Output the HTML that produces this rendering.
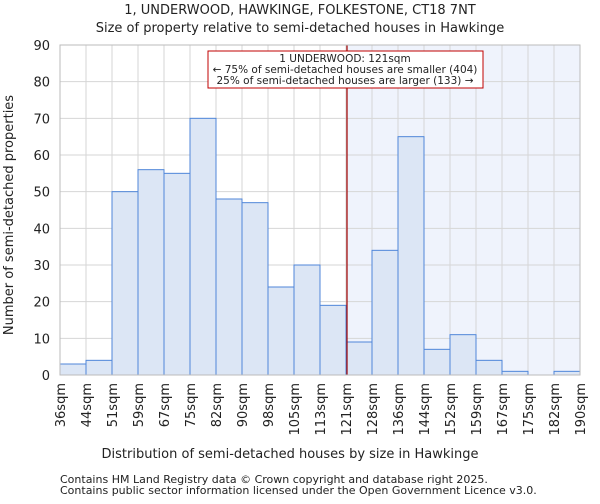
<!DOCTYPE html>
<html><head><meta charset="utf-8"><style>
body{margin:0;background:#fff;font-family:"DejaVu Sans","Liberation Sans",sans-serif;}
svg text{font-family:"DejaVu Sans","Liberation Sans",sans-serif;fill:#222;}
</style></head><body>
<svg id="chart" width="600" height="500">
<text x="300" y="14" font-size="13" text-anchor="middle">1, UNDERWOOD, HAWKINGE, FOLKESTONE, CT18 7NT</text>
<text x="300" y="32" font-size="13" text-anchor="middle">Size of property relative to semi-detached houses in Hawkinge</text>
<g id="grid"></g><g id="bars"></g><g id="axes"></g>
<text x="290" y="458" font-size="13" text-anchor="middle">Distribution of semi-detached houses by size in Hawkinge</text>
<text transform="translate(13,215) rotate(-90)" font-size="13" text-anchor="middle">Number of semi-detached properties</text>
<text x="60" y="483" font-size="11" fill="#444">Contains HM Land Registry data © Crown copyright and database right 2025.</text>
<text x="60" y="494" font-size="11" fill="#444">Contains public sector information licensed under the Open Government Licence v3.0.</text>
</svg>
<script>
const categories=["36sqm","44sqm","51sqm","59sqm","67sqm","75sqm","82sqm","90sqm","98sqm","105sqm","113sqm","121sqm","128sqm","136sqm","144sqm","152sqm","159sqm","167sqm","175sqm","182sqm","190sqm"];
const counts=[3,4,50,56,55,70,48,47,24,30,19,9,34,65,7,11,4,1,0,1];
const yTicks=[0,10,20,30,40,50,60,70,80,90];
const markerIndex=11;
const NS="http://www.w3.org/2000/svg";
const L=60,R=580,T=45,B=375,yMax=90;
const bw=(R-L)/counts.length;
const xs=i=>L+i*bw;
const ys=v=>B-(v/yMax)*(B-T);
function mk(tag,attrs,parent){const e=document.createElementNS(NS,tag);for(const k in attrs)e.setAttribute(k,attrs[k]);document.getElementById(parent).appendChild(e);return e;}
const mx=xs(markerIndex)+1;
let sh=mk("rect",{x:mx,y:T,width:R-mx,height:B-T,fill:"#eff3fc"},"grid");


yTicks.forEach(v=>{
 let g=mk("line",{x1:L,x2:R,y1:ys(v),y2:ys(v),stroke:"#d6d6d6","stroke-width":1},"grid");
 
 
 let t=mk("text",{x:L-10,y:ys(v)+5,"font-size":13,"text-anchor":"end"},"axes");
 t.textContent=v;
 
 
});
categories.forEach((c,i)=>{
 let g=mk("line",{x1:xs(i),x2:xs(i),y1:T,y2:B,stroke:"#d6d6d6","stroke-width":1},"grid");
 
 
 let t=mk("text",{transform:`translate(${xs(i)+5},${B+8}) rotate(-90)`,"font-size":13,"text-anchor":"end"},"axes");
 t.textContent=c;
 
 
});
counts.forEach((v,i)=>{
 if(v<=0)return;
 let r=mk("rect",{x:xs(i),y:ys(v),width:bw,height:B-ys(v),fill:"#dce6f5",stroke:"#4f86d9","stroke-width":1},"bars");
 
 
});
let ln=mk("line",{x1:mx,x2:mx,y1:T,y2:B,stroke:"#a00000","stroke-width":1.2},"axes");


let bx=mk("rect",{x:208,y:51,width:275,height:37,fill:"#fff",stroke:"#c00000","stroke-width":1},"axes");


[["1 UNDERWOOD: 121sqm",62],["← 75% of semi-detached houses are smaller (404)",73],["25% of semi-detached houses are larger (133) →",84]].forEach(([s,y])=>{
 let t=mk("text",{x:345,y:y,"font-size":10.5,"text-anchor":"middle"},"axes");
 t.textContent=s;
 
 
});
let ax=mk("rect",{x:L,y:T,width:R-L,height:B-T,fill:"none",stroke:"#bbb","stroke-width":1},"axes");


</script>
</body></html>
